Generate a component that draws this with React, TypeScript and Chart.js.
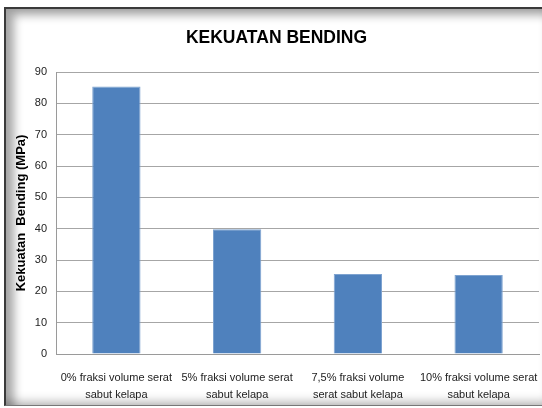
import React, { useEffect, useRef } from "react";
import { Chart, registerables } from "chart.js";

Chart.register(...registerables);

const categories: string[][] = [
  ["0% fraksi volume serat", "sabut kelapa"],
  ["5% fraksi volume serat", "sabut kelapa"],
  ["7,5% fraksi volume", "serat sabut kelapa"],
  ["10% fraksi volume serat", "sabut kelapa"],
];
const bendingStrength: number[] = [85.4, 39.8, 25.5, 25.2];
const chartTitle = "KEKUATAN BENDING";
const yAxisTitle = "Kekuatan  Bending (MPa)";
const yMin = 0;
const yMax = 90;
const yStep = 10;

export default function App() {
  const ref = useRef<HTMLCanvasElement | null>(null);

  useEffect(() => {
    if (!ref.current) return;
    const chart = new Chart(ref.current, {
      type: "bar",
      data: {
        labels: categories,
        datasets: [
          {
            data: bendingStrength,
            backgroundColor: "#4f81bd",
            borderColor: "#7ea3d0",
            borderWidth: 1,
            categoryPercentage: 1,
            barPercentage: 0.4,
          },
        ],
      },
      options: {
        animation: false,
        responsive: false,
        maintainAspectRatio: false,
        layout: { padding: { left: 14, right: 3, top: 0, bottom: 2 } },
        plugins: {
          legend: { display: false },
          tooltip: { enabled: false },
          title: {
            display: true,
            text: chartTitle,
            color: "#000",
            font: { family: "'Liberation Sans', Arial, sans-serif", size: 17.5, weight: "bold" },
            padding: { top: 28, bottom: 23 },
          },
        },
        scales: {
          x: {
            grid: { display: false, drawTicks: false },
            border: { display: true, color: "#9a9a9a", width: 1 },
            ticks: {
              color: "#222",
              font: { family: "'Liberation Sans', Arial, sans-serif", size: 11, lineHeight: 1.6 },
              padding: 15,
              maxRotation: 0,
              autoSkip: false,
            },
            afterFit: (scale: any) => {
              scale.paddingLeft = 0;
              scale.paddingRight = 0;
              scale.height = 52;
            },
          },
          y: {
            min: yMin,
            max: yMax,
            grid: { color: "#a6a6a6", lineWidth: 1, drawTicks: false },
            border: { display: true, color: "#9a9a9a", width: 1 },
            ticks: {
              stepSize: yStep,
              color: "#222",
              font: { family: "'Liberation Sans', Arial, sans-serif", size: 11 },
              padding: 9,
            },
            title: {
              display: true,
              text: yAxisTitle,
              color: "#000",
              font: { family: "'Liberation Sans', Arial, sans-serif", size: 13, weight: "bold" },
              padding: 0,
            },
            afterFit: (scale: any) => {
              scale.width = 42;
            },
          },
        },
      },
    });
    return () => chart.destroy();
  }, []);

  return (
    <div style={{ position: "absolute", left: 0, top: 0, width: 542, height: 408, overflow: "hidden", background: "#fff" }}>
      <div
        style={{
          position: "absolute",
          left: 4,
          top: 7,
          width: 548,
          height: 396,
          borderTop: "2px solid #3a3a3a",
          borderLeft: "2px solid #3a3a3a",
          borderBottom: "1px solid #777",
          boxShadow: "inset 8px 6px 10px rgba(0,0,0,0.35), inset -6px -4px 10px rgba(0,0,0,0.25)",
          background: "#fff",
        }}
      />
      <canvas ref={ref} width={542} height={408} style={{ position: "absolute", left: 0, top: 0 }} />
    </div>
  );
}
